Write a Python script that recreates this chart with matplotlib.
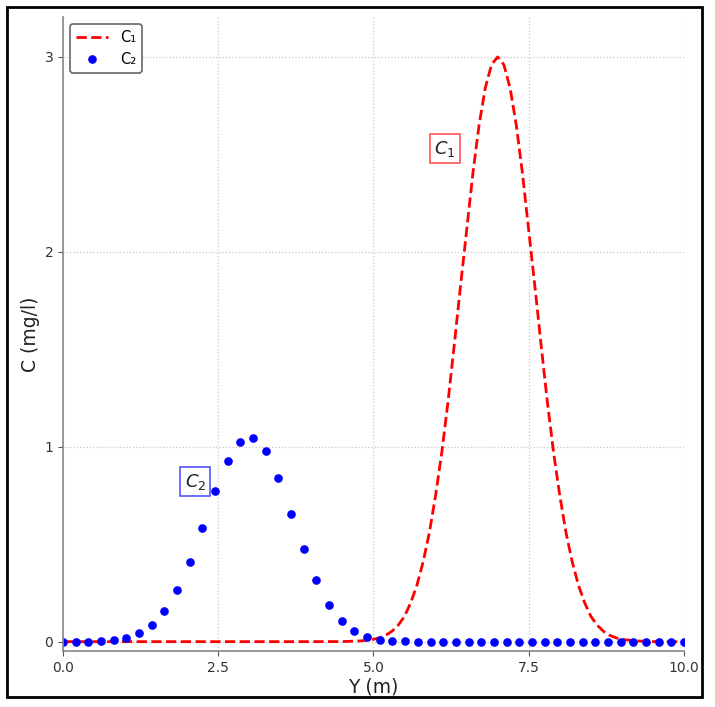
import numpy as np
import matplotlib
matplotlib.use('Agg')
import matplotlib.pyplot as plt
from matplotlib.patches import Rectangle

y_c2 = np.linspace(0, 10, 50)
c2 = [0.0, 0.0, 0.0, 0.002, 0.006, 0.02, 0.042, 0.085, 0.157, 0.265,
      0.41, 0.585, 0.773, 0.926, 1.026, 1.047, 0.977, 0.84, 0.656, 0.476,
      0.315, 0.19, 0.108, 0.053, 0.024, 0.009, 0.003, 0.001, 0.0, 0.0,
      0.0, 0.0, 0.0, 0.0, 0.0, 0.0, 0.0, 0.0, 0.0, 0.0,
      0.0, 0.0, 0.0, 0.0, 0.0, 0.0, 0.0, 0.0, 0.0, 0.0]

# C1
y_c1 = [0.0, 4.0, 4.5, 4.8, 5.0, 5.1, 5.2, 5.3, 5.4, 5.5, 5.6, 5.7, 5.8, 5.9,
        6.0, 6.1, 6.2, 6.3, 6.4, 6.5, 6.6, 6.7, 6.8, 6.9, 7.0,
        7.1, 7.2, 7.3, 7.4, 7.5, 7.6, 7.7, 7.8, 7.9, 8.0,
        8.1, 8.2, 8.3, 8.4, 8.5, 8.6, 8.7, 8.8, 8.9, 9.0,
        9.2, 9.5, 10.0]
c1 = [0.0, 0.0, 0.0005, 0.004, 0.012, 0.020, 0.033, 0.054, 0.085, 0.13, 0.20, 0.29, 0.41, 0.56,
      0.75, 0.97, 1.23, 1.52, 1.82, 2.11, 2.40, 2.65, 2.84, 2.96, 3.00,
      2.96, 2.84, 2.65, 2.40, 2.11, 1.82, 1.52, 1.23, 0.97, 0.75,
      0.56, 0.41, 0.29, 0.20, 0.13, 0.085, 0.054, 0.033, 0.020, 0.012,
      0.004, 0.0005, 0.0]

xticks = [0.0, 2.5, 5.0, 7.5, 10.0]
yticks = [0, 1, 2, 3]

fig = plt.figure(figsize=(7.15, 7.07), dpi=100)
ax = fig.add_axes([0.0881, 0.0792, 0.8685, 0.8968])

ax.plot(y_c1, c1, '--', color='red', lw=2, label='C₁')
ax.plot(y_c2, c2, 'o', color='blue', ms=5.2, label='C₂')

ax.set_xlim(0, 10)
ax.set_ylim(-0.048, 3.205)
ax.set_xticks(xticks)
ax.set_yticks(yticks)
ax.set_xticklabels(['%.1f' % t for t in xticks])
ax.set_yticklabels([str(t) for t in yticks])
ax.tick_params(colors='#555555', labelsize=10, labelcolor='#333333')
ax.grid(True, linestyle=':', color='#c8c8c8', lw=0.9)
ax.set_axisbelow(True)
for s in ['top', 'right']:
    ax.spines[s].set_visible(False)
for s in ['left', 'bottom']:
    ax.spines[s].set_color('#888888')
    ax.spines[s].set_linewidth(1.2)

ax.set_xlabel('Y (m)', fontsize=13.5, color='#222222', labelpad=2)
ax.set_ylabel('C (mg/l)', fontsize=13.5, color='#222222', labelpad=3)

leg = ax.legend(loc='upper left', numpoints=1, fontsize=10.5, fancybox=True,
                framealpha=1, edgecolor='#666666', borderaxespad=0.5,
                handlelength=2.2)
leg.get_frame().set_linewidth(1.2)

ax.text(6.15, 2.53, '$C_1$', fontsize=13, ha='center', va='center', color='#222222',
        bbox=dict(boxstyle='square,pad=0.25', fc='white', ec='#ff5555', lw=1.2))
ax.text(2.13, 0.82, '$C_2$', fontsize=13, ha='center', va='center', color='#222222',
        bbox=dict(boxstyle='square,pad=0.25', fc='white', ec='#5555ff', lw=1.2))

fig.patches.append(Rectangle((0.0098, 0.0141), 0.972, 0.976, transform=fig.transFigure,
                             fill=False, ec='black', lw=2))

fig.savefig('out.png', dpi=100)
